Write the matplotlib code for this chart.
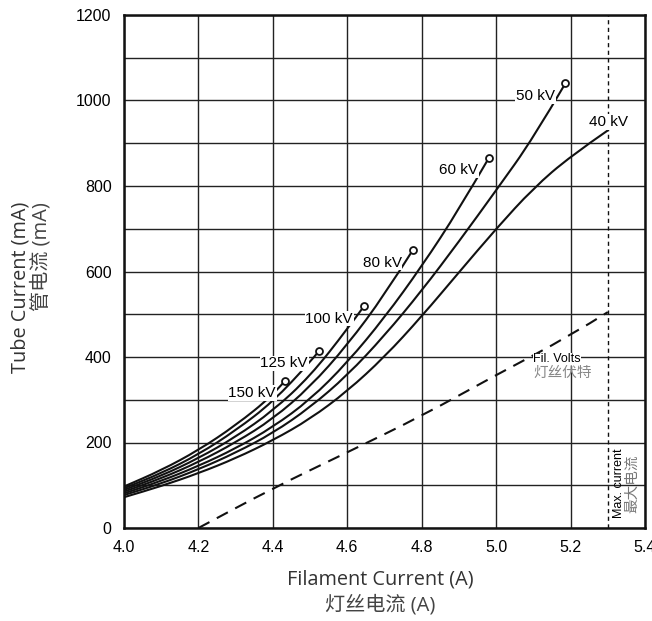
import matplotlib
matplotlib.use("Agg")
import matplotlib.pyplot as plt
from matplotlib.path import Path
from matplotlib.patches import PathPatch

# ---- data ----
kv_labels = ["150 kV", "125 kV", "100 kV", "80 kV", "60 kV", "50 kV", "40 kV"]

x_150 = [4.0, 4.1, 4.2, 4.3, 4.4, 4.432]
y_150 = [97, 135, 182, 240, 310, 344]
x_125 = [4.0, 4.1, 4.2, 4.3, 4.4, 4.5, 4.524]
y_125 = [93, 128, 172, 228, 295, 388, 414]
x_100 = [4.0, 4.1, 4.2, 4.3, 4.4, 4.5, 4.6, 4.645]
y_100 = [89, 122, 163, 213, 274, 355, 465, 519]
x_80 = [4.0, 4.1, 4.2, 4.3, 4.4, 4.5, 4.6, 4.7, 4.776]
y_80 = [85, 116, 154, 200, 255, 330, 428, 545, 650]
x_60 = [4.0, 4.1, 4.2, 4.3, 4.4, 4.5, 4.6, 4.7, 4.8, 4.9, 4.98]
y_60 = [81, 110, 145, 186, 236, 300, 387, 492, 612, 745, 865]
x_50 = [4.0, 4.1, 4.2, 4.3, 4.4, 4.5, 4.6, 4.7, 4.8, 4.9, 5.0, 5.1, 5.186]
y_50 = [77, 104, 137, 176, 222, 282, 357, 450, 555, 670, 790, 912, 1040]
x_40 = [4.0, 4.1, 4.2, 4.3, 4.4, 4.5, 4.6, 4.7, 4.8, 4.9, 5.0, 5.1, 5.2, 5.3]
y_40 = [72, 98, 128, 163, 205, 255, 320, 400, 495, 598, 700, 795, 870, 930]

curves_x = [x_150, x_125, x_100, x_80, x_60, x_50, x_40]
curves_y = [y_150, y_125, y_100, y_80, y_60, y_50, y_40]
has_end_marker = [True, True, True, True, True, True, False]

# label anchor (right edge, centre) for each curve; 40 kV is left-anchored
label_x = [4.408, 4.494, 4.615, 4.746, 4.952, 5.158, 5.25]
label_y = [316, 385, 490, 621, 837, 1010, 950]

fil_volts_x = [4.2, 4.4, 4.6, 4.8, 5.0, 5.2, 5.3]
fil_volts_y = [0, 93, 177, 262, 358, 450, 505]

max_current = 5.3

x_ticks = [4.0, 4.2, 4.4, 4.6, 4.8, 5.0, 5.2, 5.4]
y_ticks = [0, 200, 400, 600, 800, 1000, 1200]
y_grid = list(range(0, 1300, 100))


def smooth_path(xs, ys):
    """Quadratic bezier through segment midpoints, read points as controls."""
    pts = list(zip(xs, ys))
    verts = [pts[0]]
    codes = [Path.MOVETO]
    if len(pts) > 2:
        mid = ((pts[0][0] + pts[1][0]) / 2, (pts[0][1] + pts[1][1]) / 2)
        verts.append(mid); codes.append(Path.LINETO)
        for k in range(1, len(pts) - 1):
            nxt = ((pts[k][0] + pts[k + 1][0]) / 2, (pts[k][1] + pts[k + 1][1]) / 2)
            if k == len(pts) - 2:
                nxt = pts[k + 1]
            verts += [pts[k], nxt]
            codes += [Path.CURVE3, Path.CURVE3]
    else:
        verts.append(pts[1]); codes.append(Path.LINETO)
    return Path(verts, codes)


W, H = 652, 621
fig = plt.figure(figsize=(W / 100, H / 100), dpi=100, facecolor="white")
ax = fig.add_axes([124 / W, 1 - 528 / H, (645 - 124) / W, (528 - 15) / H])

ax.set_xlim(4.0, 5.4)
ax.set_ylim(0, 1200)

# grid
for gx in x_ticks:
    ax.axvline(gx, color="#222222", lw=1.0, zorder=1)
for gy in y_grid:
    ax.axhline(gy, color="#222222", lw=1.0, zorder=1)

ax.set_xticks(x_ticks)
ax.set_xticklabels([f"{v:.1f}" for v in x_ticks])
ax.set_yticks(y_ticks)
ax.tick_params(length=0, labelsize=11.5, pad=9)
for lab in ax.get_xticklabels() + ax.get_yticklabels():
    lab.set_fontfamily("Liberation Sans")

for sp in ax.spines.values():
    sp.set_linewidth(1.8)
    sp.set_color("#111111")

# kV curves
for i in range(len(curves_x)):
    ax.add_patch(PathPatch(smooth_path(curves_x[i], curves_y[i]), fill=False,
                           edgecolor="#111111", lw=1.5, zorder=3,
                           capstyle="round", joinstyle="round"))
    if has_end_marker[i]:
        ax.plot(curves_x[i][-1], curves_y[i][-1], "o", ms=5, mfc="white",
                mec="#111111", mew=1.3, zorder=5)
    ha = "right" if i < 6 else "left"
    ax.text(label_x[i], label_y[i], kv_labels[i], ha=ha, va="center",
            fontsize=11, family="Liberation Sans", zorder=4,
            bbox=dict(facecolor="white", edgecolor="none", pad=0.5))

# filament volts and max current
ax.add_patch(PathPatch(smooth_path(fil_volts_x, fil_volts_y), fill=False,
                       edgecolor="#111111", lw=1.5, zorder=3,
                       linestyle=(0, (6, 4))))
ax.axvline(max_current, color="#111111", lw=1.0, zorder=3, dashes=(3, 2.5))

ax.text(5.10, 395, "Fil. Volts", ha="left", va="center", fontsize=9,
        family="Liberation Sans", zorder=4,
        bbox=dict(facecolor="white", edgecolor="none", pad=0.3))
ax.text(5.10, 362, "灯丝伏特", ha="left", va="center", fontsize=10.5,
        family="Noto Sans CJK SC", color="#888888", zorder=4)
ax.text(5.329, 23, "Max. current", rotation=90, ha="center", va="bottom",
        fontsize=9, family="Liberation Sans", zorder=4)
ax.text(5.364, 35, "最大电流", rotation=90, ha="center", va="bottom",
        fontsize=10.5, family="Noto Sans CJK SC", color="#777777", zorder=4)

# axis titles
lab_font = ["Open Sans", "Noto Sans CJK SC"]
fig.text(380 / W, 1 - 580 / H, "Filament Current (A)", ha="center", va="center",
         fontsize=14.3, family=lab_font, color="#333333")
fig.text(380 / W, 1 - 605 / H, "灯丝电流 (A)", ha="center", va="center",
         fontsize=14.5, family=lab_font, color="#444444")
fig.text(21 / W, 1 - 202 / H, "Tube Current (mA)", rotation=90, ha="center",
         va="top", fontsize=14.3, family=lab_font, color="#333333")
fig.text(41 / W, 1 - 202 / H, "管电流 (mA)", rotation=90, ha="center",
         va="top", fontsize=14.5, family=lab_font, color="#444444")

fig.savefig("out.png", dpi=100, facecolor="white")
